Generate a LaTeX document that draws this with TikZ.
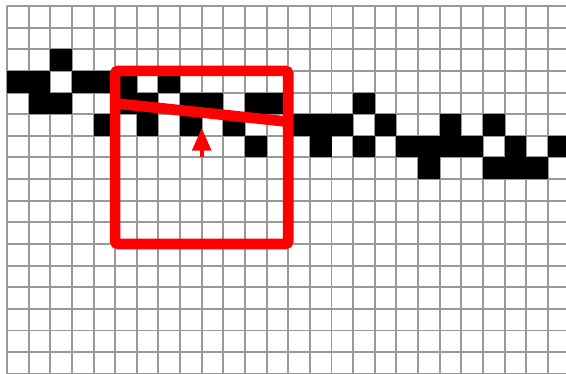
\documentclass[tikz,border=0pt]{standalone}
\usepackage{xcolor}
\usepackage{tikz}
\usetikzlibrary{arrows.meta}
\definecolor{gridgray}{HTML}{999999}
\definecolor{markred}{HTML}{FF0000}

\begin{document}
\begin{tikzpicture}[x=0.5cm,y=-0.5cm,
  gridline/.style={line width=1.3pt,gridgray},
  pixel/.style={fill=black},
  window/.style={line width=7pt,markred,rounded corners=2pt},
  slant/.style={line width=7pt,markred},
  pointer/.style={line width=2.5pt,markred,-{Triangle[length=5.2mm,width=4.3mm]}}
]
\useasboundingbox (-0.324,-0.277) rectangle (25.84,16.97);
\fill[white] (-0.324,-0.277) rectangle (25.84,16.97);
\begin{scope}
\clip (-0.324,-0.277) rectangle (25.84,16.97);
\foreach \x in {0,...,26}{\draw[gridline] (\x,0) -- (\x,18);}
\foreach \y in {0,...,17}{\draw[gridline] (0,\y) -- (27,\y);}
% rasterised line, one cell each
\foreach \x/\y in {2/2,0/3,1/3,3/3,4/3,5/3,7/3,
  1/4,2/4,5/4,6/4,8/4,9/4,11/4,12/4,16/4,
  4/5,6/5,8/5,10/5,13/5,14/5,15/5,17/5,20/5,22/5,
  11/6,14/6,16/6,18/6,19/6,20/6,21/6,23/6,25/6,
  19/7,22/7,23/7,24/7}{\fill[pixel] (\x,\y) rectangle ++(1,1);}
\end{scope}

\coordinate (wintl) at (5,3);
\coordinate (winbr) at (13,11);
\draw[window] (wintl) rectangle (winbr);
\coordinate (slantL) at (5,4.5);
\coordinate (slantR) at (13,5.35);
\draw[slant] (slantL) -- (slantR);
\coordinate (arrowbase) at (9,7);
\coordinate (arrowtip) at (9,5.64);
\draw[pointer] (arrowbase) -- (arrowtip);
\end{tikzpicture}
\end{document}
